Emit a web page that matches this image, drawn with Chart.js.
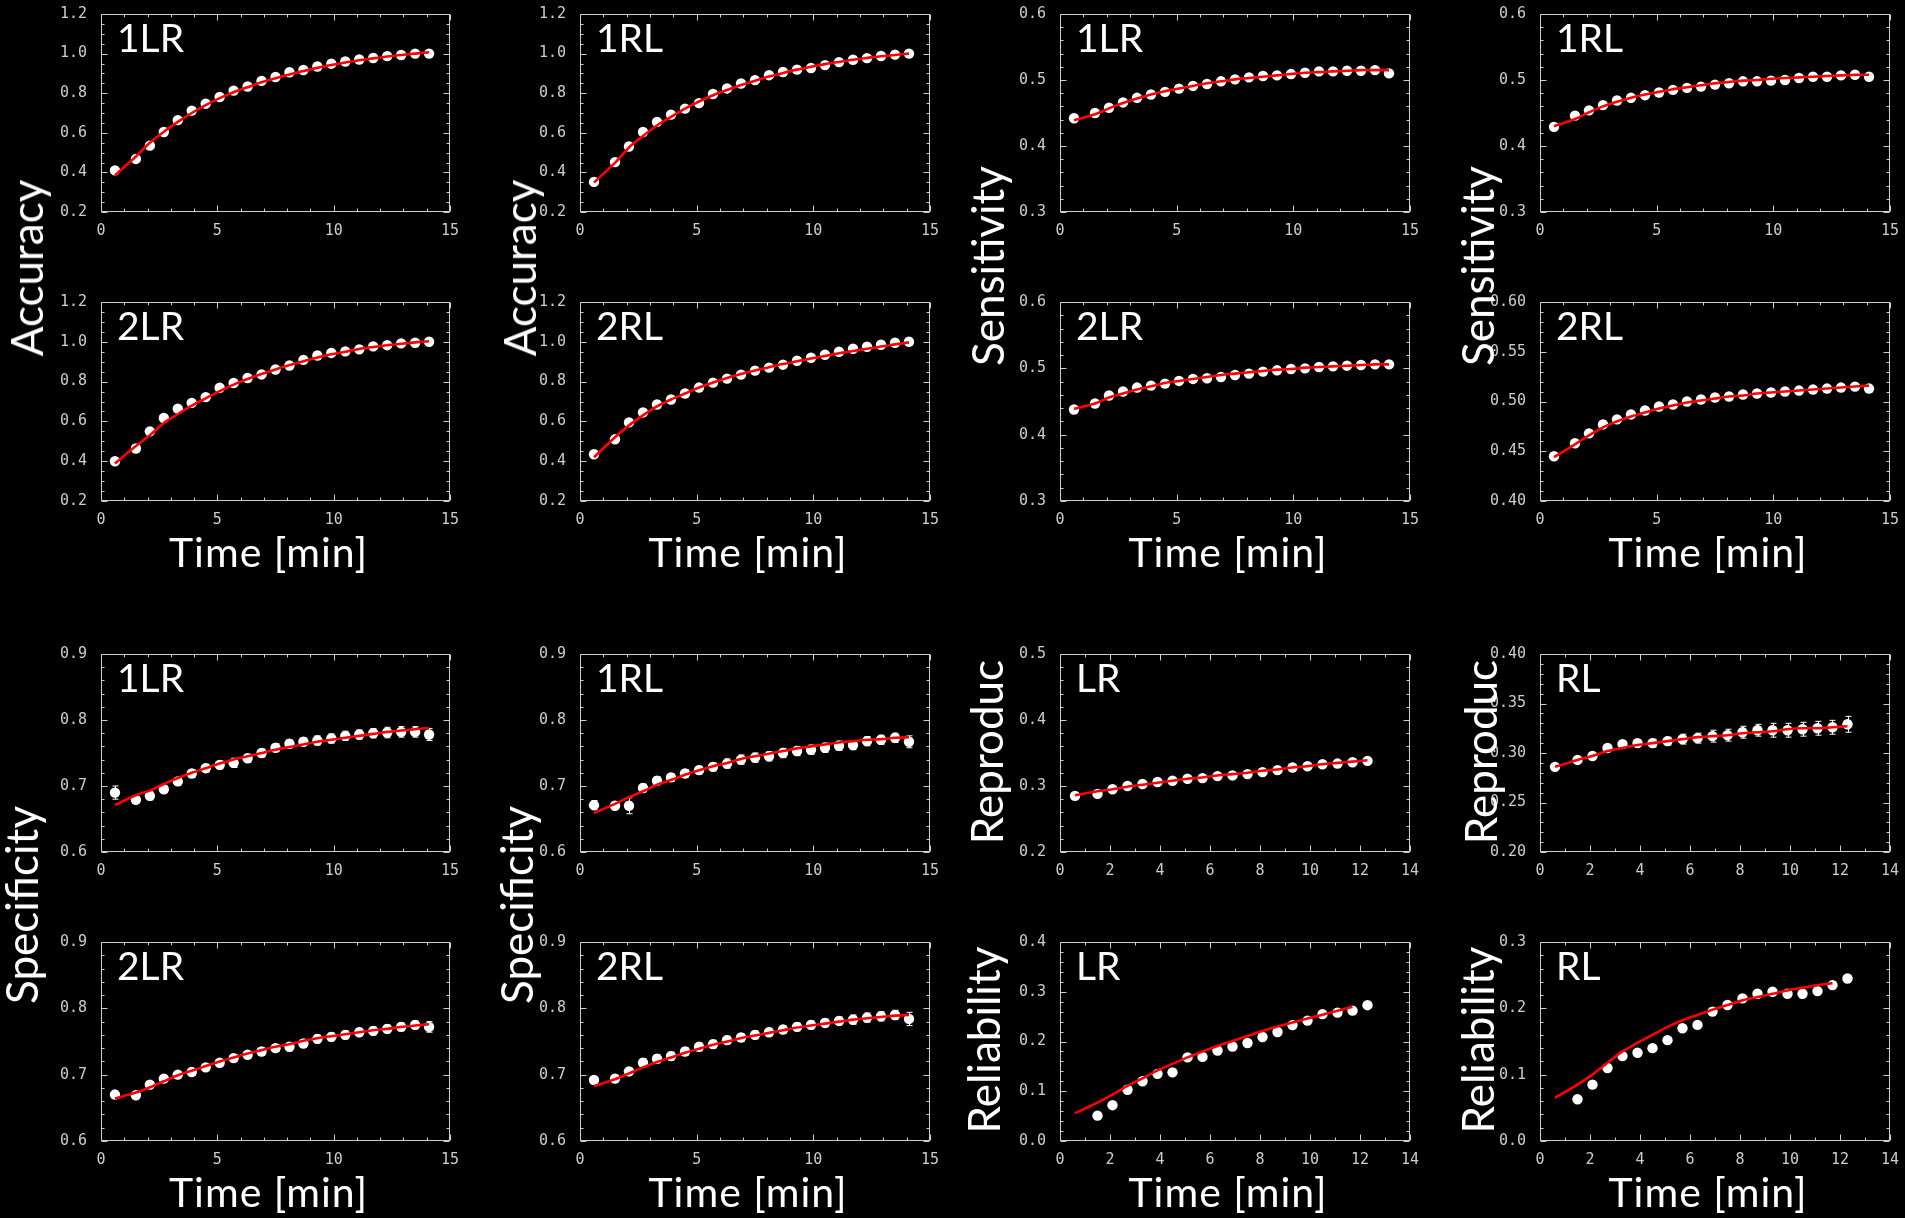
<!DOCTYPE html>
<html>
<head>
<meta charset="utf-8">
<script src="https://cdn.jsdelivr.net/npm/chart.js@4.4.1/dist/chart.umd.min.js"></script>
<style>
  html, body { margin: 0; padding: 0; background: #000; }
  body { width: 1905px; height: 1218px; position: relative; overflow: hidden; font-family: Lato, "Noto Sans", sans-serif; color: #fff; }
  canvas { position: absolute; }
  .ytitle { position: absolute; font-size: 44px; line-height: 1; white-space: nowrap; transform: translate(-50%, -50%) rotate(-90deg); }
  .xtitle { position: absolute; font-size: 41px; line-height: 1; letter-spacing: 1px; white-space: nowrap; transform: translateX(-50%); }
  .tag { position: absolute; font-size: 39px; line-height: 1; white-space: nowrap; }
</style>
</head>
<body>
<script>
// ---- sampling times [min] ----
const timeA = [0.6, 1.5, 2.1, 2.7, 3.3, 3.9, 4.5, 5.1, 5.7, 6.3, 6.9, 7.5, 8.1, 8.7, 9.3, 9.9, 10.5, 11.1, 11.7, 12.3, 12.9, 13.5, 14.1];
const timeB = [0.6, 1.5, 2.1, 2.7, 3.3, 3.9, 4.5, 5.1, 5.7, 6.3, 6.9, 7.5, 8.1, 8.7, 9.3, 9.9, 10.5, 11.1, 11.7, 12.3];
const timeRel = [1.5, 2.1, 2.7, 3.3, 3.9, 4.5, 5.1, 5.7, 6.3, 6.9, 7.5, 8.1, 8.7, 9.3, 9.9, 10.5, 11.1, 11.7, 12.3];
const timeRelFit = [0.6, 1.5, 2.1, 2.7, 3.3, 3.9, 4.5, 5.1, 5.7, 6.3, 6.9, 7.5, 8.1, 8.7, 9.3, 9.9, 10.5, 11.1, 11.7];

// ---- Accuracy ----
const acc1LR    = [0.410, 0.468, 0.535, 0.604, 0.664, 0.712, 0.747, 0.781, 0.813, 0.834, 0.862, 0.882, 0.906, 0.917, 0.935, 0.949, 0.960, 0.970, 0.978, 0.987, 0.993, 1.000, 1.000];
const acc1LRFit = [0.385, 0.480, 0.550, 0.605, 0.655, 0.700, 0.740, 0.775, 0.805, 0.830, 0.855, 0.876, 0.895, 0.912, 0.928, 0.942, 0.955, 0.966, 0.976, 0.985, 0.993, 1.000, 1.007];
const acc2LR    = [0.400, 0.464, 0.550, 0.617, 0.664, 0.693, 0.722, 0.769, 0.793, 0.818, 0.836, 0.861, 0.881, 0.909, 0.931, 0.944, 0.952, 0.962, 0.977, 0.983, 0.992, 0.995, 1.000];
const acc2LRFit = [0.388, 0.476, 0.530, 0.592, 0.636, 0.679, 0.716, 0.752, 0.785, 0.813, 0.838, 0.861, 0.883, 0.902, 0.921, 0.937, 0.950, 0.964, 0.974, 0.983, 0.990, 0.997, 1.003];
const acc1RL    = [0.352, 0.452, 0.531, 0.604, 0.655, 0.692, 0.722, 0.750, 0.796, 0.824, 0.849, 0.866, 0.891, 0.907, 0.919, 0.927, 0.942, 0.957, 0.969, 0.977, 0.988, 0.995, 1.000];
const acc1RLFit = [0.349, 0.448, 0.526, 0.584, 0.637, 0.680, 0.722, 0.758, 0.790, 0.816, 0.841, 0.863, 0.884, 0.902, 0.919, 0.934, 0.947, 0.958, 0.969, 0.978, 0.987, 0.993, 1.000];
const acc2RL    = [0.435, 0.510, 0.595, 0.645, 0.685, 0.710, 0.740, 0.770, 0.795, 0.815, 0.835, 0.855, 0.870, 0.885, 0.905, 0.920, 0.935, 0.950, 0.965, 0.975, 0.985, 0.995, 1.000];
const acc2RLFit = [0.420, 0.520, 0.580, 0.630, 0.675, 0.710, 0.740, 0.770, 0.795, 0.818, 0.838, 0.856, 0.872, 0.888, 0.902, 0.916, 0.929, 0.942, 0.954, 0.965, 0.976, 0.987, 0.997];

// ---- Sensitivity ----
const sens1LR    = [0.442, 0.450, 0.458, 0.466, 0.473, 0.478, 0.482, 0.487, 0.491, 0.494, 0.498, 0.501, 0.504, 0.506, 0.507, 0.509, 0.511, 0.513, 0.513, 0.514, 0.514, 0.515, 0.510];
const sens1LRFit = [0.439, 0.448, 0.457, 0.465, 0.472, 0.478, 0.483, 0.487, 0.491, 0.495, 0.498, 0.501, 0.503, 0.505, 0.507, 0.509, 0.511, 0.512, 0.513, 0.514, 0.515, 0.515, 0.515];
const sens1RL    = [0.429, 0.446, 0.454, 0.462, 0.469, 0.473, 0.477, 0.481, 0.485, 0.488, 0.490, 0.493, 0.495, 0.498, 0.498, 0.499, 0.500, 0.503, 0.505, 0.505, 0.507, 0.508, 0.505];
const sens1RLFit = [0.430, 0.441, 0.451, 0.460, 0.467, 0.473, 0.478, 0.482, 0.486, 0.489, 0.492, 0.495, 0.497, 0.499, 0.500, 0.502, 0.503, 0.504, 0.505, 0.506, 0.507, 0.508, 0.508];
const sens2LR    = [0.438, 0.447, 0.459, 0.465, 0.471, 0.474, 0.477, 0.481, 0.484, 0.485, 0.487, 0.490, 0.492, 0.495, 0.497, 0.499, 0.500, 0.502, 0.503, 0.504, 0.505, 0.506, 0.506];
const sens2LRFit = [0.439, 0.447, 0.456, 0.462, 0.468, 0.473, 0.478, 0.481, 0.484, 0.487, 0.490, 0.492, 0.494, 0.496, 0.498, 0.499, 0.501, 0.502, 0.503, 0.504, 0.505, 0.506, 0.506];
const sens2RL    = [0.445, 0.458, 0.468, 0.477, 0.482, 0.487, 0.491, 0.495, 0.497, 0.500, 0.502, 0.504, 0.505, 0.507, 0.508, 0.509, 0.510, 0.511, 0.512, 0.513, 0.514, 0.515, 0.513];
const sens2RLFit = [0.444, 0.457, 0.466, 0.474, 0.480, 0.485, 0.489, 0.493, 0.496, 0.499, 0.501, 0.503, 0.505, 0.506, 0.508, 0.509, 0.510, 0.511, 0.512, 0.513, 0.514, 0.515, 0.516];

// ---- Specificity (with standard errors) ----
const spec1LR    = [0.690, 0.679, 0.685, 0.695, 0.707, 0.719, 0.727, 0.732, 0.735, 0.742, 0.750, 0.758, 0.764, 0.767, 0.769, 0.772, 0.776, 0.778, 0.780, 0.781, 0.782, 0.782, 0.778];
const spec1LRErr = [0.010, 0.004, 0.006, 0.005, 0.006, 0.006, 0.006, 0.006, 0.007, 0.006, 0.006, 0.006, 0.006, 0.006, 0.007, 0.007, 0.007, 0.007, 0.007, 0.008, 0.008, 0.008, 0.009];
const spec1LRFit = [0.671, 0.686, 0.693, 0.703, 0.712, 0.720, 0.727, 0.734, 0.740, 0.745, 0.750, 0.755, 0.759, 0.763, 0.767, 0.770, 0.773, 0.776, 0.779, 0.782, 0.784, 0.786, 0.788];
const spec2LR    = [0.670, 0.669, 0.685, 0.694, 0.700, 0.704, 0.711, 0.718, 0.725, 0.730, 0.735, 0.740, 0.742, 0.747, 0.754, 0.757, 0.760, 0.764, 0.766, 0.769, 0.772, 0.775, 0.772];
const spec2LRErr = [0.003, 0.003, 0.004, 0.004, 0.004, 0.005, 0.005, 0.005, 0.005, 0.005, 0.005, 0.005, 0.006, 0.006, 0.006, 0.006, 0.006, 0.006, 0.006, 0.006, 0.006, 0.006, 0.008];
const spec2LRFit = [0.664, 0.673, 0.681, 0.690, 0.699, 0.706, 0.713, 0.720, 0.726, 0.732, 0.737, 0.742, 0.746, 0.751, 0.755, 0.758, 0.761, 0.764, 0.767, 0.769, 0.772, 0.774, 0.776];
const spec1RL    = [0.671, 0.670, 0.670, 0.697, 0.708, 0.713, 0.719, 0.724, 0.729, 0.734, 0.740, 0.743, 0.745, 0.750, 0.753, 0.755, 0.758, 0.761, 0.762, 0.768, 0.770, 0.773, 0.767];
const spec1RLErr = [0.007, 0.004, 0.012, 0.006, 0.006, 0.006, 0.006, 0.006, 0.006, 0.007, 0.007, 0.007, 0.007, 0.007, 0.007, 0.007, 0.007, 0.007, 0.007, 0.007, 0.007, 0.007, 0.009];
const spec1RLFit = [0.659, 0.673, 0.683, 0.692, 0.702, 0.709, 0.717, 0.724, 0.730, 0.735, 0.741, 0.745, 0.749, 0.753, 0.757, 0.760, 0.763, 0.766, 0.768, 0.770, 0.771, 0.773, 0.774];
const spec2RL    = [0.692, 0.694, 0.705, 0.718, 0.724, 0.728, 0.735, 0.742, 0.746, 0.752, 0.756, 0.760, 0.764, 0.768, 0.772, 0.775, 0.778, 0.781, 0.783, 0.786, 0.788, 0.790, 0.784];
const spec2RLErr = [0.004, 0.005, 0.005, 0.006, 0.006, 0.006, 0.006, 0.006, 0.006, 0.006, 0.006, 0.006, 0.006, 0.006, 0.006, 0.006, 0.006, 0.006, 0.007, 0.007, 0.007, 0.007, 0.010];
const spec2RLFit = [0.683, 0.693, 0.702, 0.711, 0.719, 0.726, 0.733, 0.739, 0.745, 0.750, 0.755, 0.759, 0.763, 0.767, 0.771, 0.774, 0.777, 0.780, 0.783, 0.785, 0.787, 0.789, 0.790];

// ---- Reproducibility ----
const repLR    = [0.285, 0.288, 0.295, 0.300, 0.303, 0.306, 0.308, 0.311, 0.312, 0.315, 0.316, 0.318, 0.321, 0.324, 0.328, 0.330, 0.333, 0.334, 0.336, 0.338];
const repLRFit = [0.286, 0.292, 0.295, 0.299, 0.302, 0.305, 0.308, 0.311, 0.313, 0.316, 0.318, 0.320, 0.323, 0.325, 0.328, 0.330, 0.333, 0.335, 0.337, 0.339];
const repRL    = [0.286, 0.293, 0.297, 0.305, 0.309, 0.310, 0.310, 0.312, 0.314, 0.315, 0.317, 0.318, 0.321, 0.323, 0.323, 0.323, 0.324, 0.325, 0.326, 0.329];
const repRLErr = [0.001, 0.002, 0.002, 0.002, 0.003, 0.003, 0.004, 0.004, 0.005, 0.005, 0.006, 0.006, 0.006, 0.006, 0.007, 0.007, 0.007, 0.007, 0.007, 0.008];
const repRLFit = [0.286, 0.293, 0.297, 0.302, 0.305, 0.308, 0.310, 0.312, 0.314, 0.316, 0.317, 0.318, 0.320, 0.321, 0.322, 0.324, 0.325, 0.325, 0.326, 0.327];

// ---- Reliability ----
const relLR    = [0.051, 0.072, 0.103, 0.120, 0.135, 0.138, 0.168, 0.169, 0.182, 0.190, 0.197, 0.209, 0.219, 0.233, 0.242, 0.255, 0.258, 0.262, 0.273];
const relLRFit = [0.056, 0.077, 0.093, 0.111, 0.126, 0.142, 0.155, 0.168, 0.180, 0.191, 0.201, 0.211, 0.221, 0.230, 0.238, 0.246, 0.254, 0.262, 0.270];
const relRL    = [0.063, 0.085, 0.110, 0.128, 0.133, 0.140, 0.152, 0.170, 0.175, 0.195, 0.205, 0.215, 0.222, 0.225, 0.222, 0.222, 0.226, 0.235, 0.245];
const relRLFit = [0.065, 0.085, 0.100, 0.118, 0.135, 0.148, 0.160, 0.172, 0.182, 0.190, 0.198, 0.205, 0.212, 0.217, 0.222, 0.227, 0.231, 0.235, 0.238];

// ---- axis ranges / tick steps ----
const xTime15 = { min: 0, max: 15, major: 5, minor: 1, dec: 0 };
const xTime14 = { min: 0, max: 14, major: 2, minor: 1, dec: 0 };
const yAcc    = { min: 0.2, max: 1.2, major: 0.2, minor: 0.05, dec: 1 };
const ySens   = { min: 0.3, max: 0.6, major: 0.1, minor: 0.02, dec: 1 };
const ySensF  = { min: 0.40, max: 0.60, major: 0.05, minor: 0.01, dec: 2 };
const ySpec   = { min: 0.6, max: 0.9, major: 0.1, minor: 0.02, dec: 1 };
const yRepLR  = { min: 0.2, max: 0.5, major: 0.1, minor: 0.02, dec: 1 };
const yRepRL  = { min: 0.20, max: 0.40, major: 0.05, minor: 0.01, dec: 2 };
const yRelLR  = { min: 0.0, max: 0.4, major: 0.1, minor: 0.02, dec: 1 };
const yRelRL  = { min: 0.0, max: 0.3, major: 0.1, minor: 0.02, dec: 1 };

// ---- page layout (plot-area edges in px) ----
const COLS = [[101, 450], [580, 930], [1060, 1410], [1540, 1890]];
const ROWS = [[11, 212], [299, 501], [651, 852], [939, 1141]];
const Y_AXIS_W = 60, X_AXIS_H = 34, PAD_T = 12, PAD_R = 16;
const AXIS_COLOR = '#cdcdcd';
const FIT_COLOR = '#ff0000';

const panels = [
  { col: 0, row: 0, tag: '1LR', t: timeA, v: acc1LR, ft: timeA, fv: acc1LRFit, xa: xTime15, ya: yAcc },
  { col: 0, row: 1, tag: '2LR', t: timeA, v: acc2LR, ft: timeA, fv: acc2LRFit, xa: xTime15, ya: yAcc },
  { col: 1, row: 0, tag: '1RL', t: timeA, v: acc1RL, ft: timeA, fv: acc1RLFit, xa: xTime15, ya: yAcc },
  { col: 1, row: 1, tag: '2RL', t: timeA, v: acc2RL, ft: timeA, fv: acc2RLFit, xa: xTime15, ya: yAcc },
  { col: 2, row: 0, tag: '1LR', t: timeA, v: sens1LR, ft: timeA, fv: sens1LRFit, xa: xTime15, ya: ySens },
  { col: 2, row: 1, tag: '2LR', t: timeA, v: sens2LR, ft: timeA, fv: sens2LRFit, xa: xTime15, ya: ySens },
  { col: 3, row: 0, tag: '1RL', t: timeA, v: sens1RL, ft: timeA, fv: sens1RLFit, xa: xTime15, ya: ySens },
  { col: 3, row: 1, tag: '2RL', t: timeA, v: sens2RL, ft: timeA, fv: sens2RLFit, xa: xTime15, ya: ySensF },
  { col: 0, row: 2, tag: '1LR', t: timeA, v: spec1LR, e: spec1LRErr, ft: timeA, fv: spec1LRFit, xa: xTime15, ya: ySpec },
  { col: 0, row: 3, tag: '2LR', t: timeA, v: spec2LR, e: spec2LRErr, ft: timeA, fv: spec2LRFit, xa: xTime15, ya: ySpec },
  { col: 1, row: 2, tag: '1RL', t: timeA, v: spec1RL, e: spec1RLErr, ft: timeA, fv: spec1RLFit, xa: xTime15, ya: ySpec },
  { col: 1, row: 3, tag: '2RL', t: timeA, v: spec2RL, e: spec2RLErr, ft: timeA, fv: spec2RLFit, xa: xTime15, ya: ySpec },
  { col: 2, row: 2, tag: 'LR', t: timeB, v: repLR, ft: timeB, fv: repLRFit, xa: xTime14, ya: yRepLR },
  { col: 3, row: 2, tag: 'RL', t: timeB, v: repRL, e: repRLErr, ft: timeB, fv: repRLFit, xa: xTime14, ya: yRepRL },
  { col: 2, row: 3, tag: 'LR', t: timeRel, v: relLR, ft: timeRelFit, fv: relLRFit, xa: xTime14, ya: yRelLR },
  { col: 3, row: 3, tag: 'RL', t: timeRel, v: relRL, ft: timeRelFit, fv: relRLFit, xa: xTime14, ya: yRelRL }
];

const yTitles = [
  { text: 'Accuracy', x: 26, y: 268 },   { text: 'Accuracy', x: 519, y: 268 },
  { text: 'Sensitivity', x: 987, y: 266 }, { text: 'Sensitivity', x: 1477, y: 266 },
  { text: 'Specificity', x: 21, y: 905 }, { text: 'Specificity', x: 516, y: 905 },
  { text: 'Reproduc', x: 986, y: 752 },   { text: 'Reproduc', x: 1480, y: 752 },
  { text: 'Reliability', x: 983, y: 1040 }, { text: 'Reliability', x: 1477, y: 1040 }
];

// Box frame with inward major/minor ticks on all four sides (IDL style)
const frameTicks = {
  id: 'frameTicks',
  beforeDatasetsDraw(chart) {
    const o = chart.options.plugins.frameTicks;
    const { ctx, chartArea: a } = chart;
    const xs = chart.scales.x, ys = chart.scales.y;
    const L = Math.round(a.left) + 0.5, R = Math.round(a.right) - 0.5;
    const T = Math.round(a.top) + 0.5, B = Math.round(a.bottom) - 0.5;
    ctx.save();
    ctx.strokeStyle = AXIS_COLOR;
    ctx.lineWidth = 1;
    ctx.strokeRect(L, T, R - L, B - T);
    ctx.beginPath();
    const nx = Math.round((o.x.max - o.x.min) / o.x.minor);
    for (let i = 0; i <= nx; i++) {
      const v = o.x.min + i * o.x.minor;
      const q = v / o.x.major;
      const len = Math.abs(q - Math.round(q)) < 1e-6 ? 6 : 3;
      const px = Math.round(xs.getPixelForValue(v)) + 0.5;
      ctx.moveTo(px, B); ctx.lineTo(px, B - len);
      ctx.moveTo(px, T); ctx.lineTo(px, T + len);
    }
    const ny = Math.round((o.y.max - o.y.min) / o.y.minor);
    for (let i = 0; i <= ny; i++) {
      const v = o.y.min + i * o.y.minor;
      const q = (v - o.y.min) / o.y.major;
      const len = Math.abs(q - Math.round(q)) < 1e-6 ? 6 : 3;
      const py = Math.round(ys.getPixelForValue(v)) + 0.5;
      ctx.moveTo(L, py); ctx.lineTo(L + len, py);
      ctx.moveTo(R, py); ctx.lineTo(R - len, py);
    }
    ctx.stroke();
    ctx.restore();
  }
};

// Vertical error bars for datasets that carry an `errors` array
const errorBars = {
  id: 'errorBars',
  beforeDatasetsDraw(chart) {
    const { ctx } = chart;
    const ys = chart.scales.y;
    chart.data.datasets.forEach((ds, di) => {
      if (!ds.errors) return;
      const meta = chart.getDatasetMeta(di);
      ctx.save();
      ctx.strokeStyle = '#ffffff';
      ctx.lineWidth = 1;
      ctx.beginPath();
      meta.data.forEach((pt, i) => {
        const e = ds.errors[i];
        const yv = ds.data[i].y;
        const y1 = ys.getPixelForValue(yv + e), y2 = ys.getPixelForValue(yv - e);
        const x = Math.round(pt.x) + 0.5;
        ctx.moveTo(x, y1); ctx.lineTo(x, y2);
        ctx.moveTo(x - 3, y1); ctx.lineTo(x + 3, y1);
        ctx.moveTo(x - 3, y2); ctx.lineTo(x + 3, y2);
      });
      ctx.stroke();
      ctx.restore();
    });
  }
};

const pairs = (xs, ys) => xs.map((x, i) => ({ x, y: ys[i] }));

function addText(cls, text, left, top) {
  const d = document.createElement('div');
  d.className = cls;
  d.textContent = text;
  d.style.left = left + 'px';
  d.style.top = top + 'px';
  document.body.appendChild(d);
}

panels.forEach(p => {
  const [pl, pr] = COLS[p.col];
  const [pt, pb] = ROWS[p.row];
  const cv = document.createElement('canvas');
  const w = (pr - pl) + Y_AXIS_W + PAD_R;
  const h = (pb - pt) + PAD_T + X_AXIS_H;
  cv.width = w; cv.height = h;
  cv.style.width = w + 'px'; cv.style.height = h + 'px';
  cv.style.left = (pl - Y_AXIS_W) + 'px';
  cv.style.top = (pt - PAD_T) + 'px';
  document.body.appendChild(cv);

  const tickFont = { family: '"DejaVu Sans Mono", monospace', size: 15 };
  new Chart(cv, {
    type: 'scatter',
    data: {
      datasets: [
        { data: pairs(p.ft, p.fv), showLine: true, borderColor: FIT_COLOR, borderWidth: 2.6,
          pointRadius: 0, tension: 0.3, order: 0 },
        { data: pairs(p.t, p.v), showLine: false, backgroundColor: '#ffffff', borderWidth: 0,
          pointRadius: 5.2, order: 1, errors: p.e }
      ]
    },
    options: {
      responsive: false, animation: false, events: [], devicePixelRatio: 1,
      layout: { padding: { left: 0, top: PAD_T, right: PAD_R, bottom: 0 } },
      plugins: { legend: { display: false }, tooltip: { enabled: false }, frameTicks: { x: p.xa, y: p.ya } },
      scales: {
        x: {
          type: 'linear', position: 'bottom', min: p.xa.min, max: p.xa.max,
          grid: { display: false }, border: { display: false },
          ticks: { stepSize: p.xa.major, autoSkip: false, maxRotation: 0, color: AXIS_COLOR, font: tickFont,
                   padding: 2, callback: v => v.toFixed(p.xa.dec) },
          afterFit: s => { s.height = X_AXIS_H; }
        },
        y: {
          type: 'linear', position: 'left', min: p.ya.min, max: p.ya.max,
          grid: { display: false }, border: { display: false },
          ticks: { stepSize: p.ya.major, autoSkip: false, color: AXIS_COLOR, font: tickFont,
                   padding: 6, callback: v => v.toFixed(p.ya.dec) },
          afterFit: s => { s.width = Y_AXIS_W; }
        }
      }
    },
    plugins: [frameTicks, errorBars]
  });

  addText('tag', p.tag, pl + 16, pt + 7);
  if (p.row === 1 || p.row === 3) {
    addText('xtitle', 'Time [min]', (pl + pr) / 2 - 7, pb + 30);
  }
});

yTitles.forEach(t => addText('ytitle', t.text, t.x, t.y));
</script>
</body>
</html>
